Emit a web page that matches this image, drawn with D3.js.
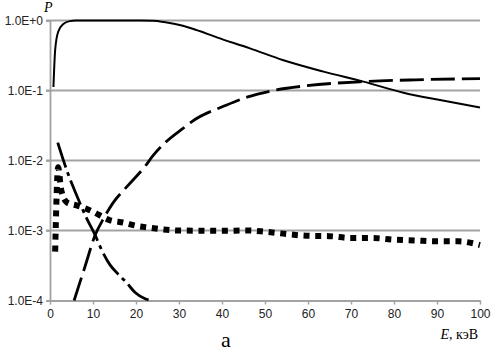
<!DOCTYPE html>
<html>
<head>
<meta charset="utf-8">
<script src="https://cdn.jsdelivr.net/npm/d3@7"></script>
<style>
  body { margin: 0; background: #fff; }
</style>
</head>
<body>
<script>
  const width = 499;
  const height = 352;

  // energies (keV) and probabilities
  const solidE = [0.8, 1.2, 1.9, 3.1, 4.6, 6, 15, 21, 24, 26.5, 29.1, 33, 38.8, 46.5, 54.3, 63.6, 72.9, 82.2, 90.7, 100];
  const solidP = [0.112, 0.38, 0.69, 0.89, 0.98, 1, 1, 1, 0.99, 0.95, 0.89, 0.77, 0.575, 0.40, 0.27, 0.186, 0.134, 0.093, 0.073, 0.057];

  const dashE = [5.6, 8.1, 10.5, 12.5, 14.7, 18, 22, 24, 27, 31, 33, 41.1, 46, 51.6, 59.7, 72.9, 85, 100];
  const dashP = [1e-4, 3e-4, 8.6e-4, 1.5e-3, 2.5e-3, 4.3e-3, 8.1e-3, 1.18e-2, 1.85e-2, 2.9e-2, 3.6e-2, 6.2e-2, 8.1e-2, 9.9e-2, 0.117, 0.134, 0.142, 0.148];

  const dashDotE = [1.8, 4.3, 6, 8.5, 10.5, 12, 14, 15.8, 17.8, 19.8, 22, 23.7];
  const dashDotP = [1.8e-2, 6.2e-3, 3.4e-3, 1.5e-3, 8.6e-4, 5.3e-4, 3.2e-4, 2.4e-4, 1.8e-4, 1.3e-4, 1.07e-4, 1.0e-4];

  const dotE = [1.2, 1.9, 2.6, 4, 6, 8, 10, 14, 17, 20, 23, 26, 30, 40, 46, 50, 55, 60, 65, 70, 75, 80, 85, 90, 95, 100];
  const dotP = [5e-4, 8e-3, 3.8e-3, 2.5e-3, 2.3e-3, 2.1e-3, 1.85e-3, 1.4e-3, 1.3e-3, 1.17e-3, 1.1e-3, 1.04e-3, 1.0e-3, 9.9e-4, 1.0e-3, 9.6e-4, 8.9e-4, 8.4e-4, 8.3e-4, 7.8e-4, 7.8e-4, 7.4e-4, 7.2e-4, 7.0e-4, 7.0e-4, 6.2e-4];

  const xTicks = [0, 10, 20, 30, 40, 50, 60, 70, 80, 90, 100];
  const yTicks = [1e-4, 1e-3, 1e-2, 1e-1, 1];
  const yTickLabels = ["1.0E-4", "1.0E-3", "1.0E-2", "1.0E-1", "1.0E+0"];

  const x = d3.scaleLinear().domain([0, 100]).range([50, 480]);
  const y = d3.scaleLog().domain([1e-4, 1]).range([300.5, 20.5]);

  const svg = d3.select("body").append("svg")
      .attr("width", width)
      .attr("height", height)
      .style("font-family", "'Liberation Sans', Arial, sans-serif");

  svg.append("defs").append("clipPath").attr("id", "plot")
    .append("rect").attr("x", 50).attr("y", 10).attr("width", 440).attr("height", 291);

  // gridlines
  svg.append("g")
    .selectAll("line")
    .data(yTicks.slice(1))
    .join("line")
      .attr("x1", 46).attr("x2", 480)
      .attr("y1", d => y(d)).attr("y2", d => y(d))
      .attr("stroke", "#a3a3a3")
      .attr("stroke-width", 1.8);

  // y axis
  const yAxis = svg.append("g")
      .attr("transform", "translate(50,0)")
      .call(d3.axisLeft(y).tickValues(yTicks).tickFormat((d, i) => yTickLabels[i]).tickSize(4).tickPadding(3));
  yAxis.select(".domain").attr("stroke", "#a3a3a3").attr("stroke-width", 1.8);
  yAxis.selectAll(".tick line").attr("stroke", "#a3a3a3").attr("stroke-width", 1.8);
  yAxis.selectAll("text").attr("font-size", 12).attr("fill", "#222").attr("font-family", "'Liberation Sans', Arial, sans-serif");

  // x axis
  const xAxis = svg.append("g")
      .attr("transform", "translate(0,300.5)")
      .call(d3.axisBottom(x).tickValues(xTicks).tickSize(4).tickSizeOuter(0).tickPadding(5));
  xAxis.select(".domain").attr("stroke", "#a3a3a3").attr("stroke-width", 1.8);
  xAxis.selectAll(".tick line").attr("stroke", "#a3a3a3").attr("stroke-width", 1.5);
  xAxis.selectAll("text").attr("font-size", 12).attr("fill", "#222").attr("font-family", "'Liberation Sans', Arial, sans-serif");

  const line = d3.line()
      .x(d => x(d[0]))
      .y(d => y(d[1]))
      .curve(d3.curveMonotoneX);

  const zip = (a, b) => a.map((v, i) => [v, b[i]]);

  const series = [
    { pts: zip(dotE, dotP), width: 6, dash: "6,5.7" },
    { pts: zip(dashDotE, dashDotP), width: 2.8, dash: "26,5,4,5" },
    { pts: zip(dashE, dashP), width: 2.8, dash: "24,7" },
    { pts: zip(solidE, solidP), width: 2, dash: null }
  ];

  svg.append("g")
      .attr("clip-path", "url(#plot)")
    .selectAll("path")
    .data(series)
    .join("path")
      .attr("d", d => line(d.pts))
      .attr("fill", "none")
      .attr("stroke", "#000")
      .attr("stroke-width", d => d.width)
      .attr("stroke-dasharray", d => d.dash);

  // axis titles
  svg.append("text")
      .attr("x", 44).attr("y", 12)
      .attr("font-family", "'Liberation Serif', 'Times New Roman', serif")
      .attr("font-style", "italic")
      .attr("font-size", 14)
      .text("P");

  const xt = svg.append("text")
      .attr("x", 478).attr("y", 339)
      .attr("text-anchor", "end")
      .attr("font-family", "'Liberation Serif', 'Times New Roman', serif")
      .attr("font-size", 14);
  xt.append("tspan").attr("font-style", "italic").text("E");
  xt.append("tspan").text(", кэВ");

  svg.append("text")
      .attr("x", 226).attr("y", 347)
      .attr("text-anchor", "middle")
      .attr("font-family", "'Liberation Serif', 'Times New Roman', serif")
      .attr("font-size", 22)
      .text("а");
</script>
</body>
</html>
